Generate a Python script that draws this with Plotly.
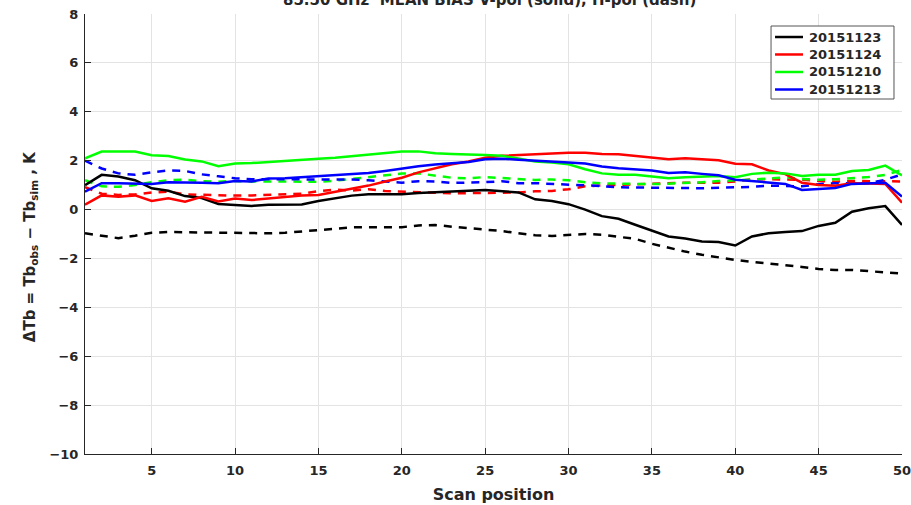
import plotly.graph_objects as go

scan = list(range(1, 51))
labels = ["20151123", "20151124", "20151210", "20151213"]
colors = ["#000000", "#ff0000", "#00ff00", "#0000ff"]

v_20151123 = [1.0, 1.42, 1.35, 1.2, 0.87, 0.77, 0.55, 0.47, 0.23, 0.18,
              0.15, 0.2, 0.2, 0.21, 0.35, 0.47, 0.57, 0.63, 0.64, 0.63,
              0.68, 0.72, 0.75, 0.77, 0.8, 0.76, 0.7, 0.42, 0.35, 0.22,
              0.0, -0.27, -0.38, -0.62, -0.85, -1.1, -1.18, -1.31, -1.33, -1.47,
              -1.1, -0.97, -0.92, -0.88, -0.67, -0.54, -0.09, 0.05, 0.14, -0.63]
h_20151123 = [-0.97, -1.07, -1.17, -1.07, -0.95, -0.92, -0.93, -0.93, -0.95, -0.95,
              -0.97, -0.97, -0.95, -0.9, -0.86, -0.8, -0.73, -0.72, -0.72, -0.72,
              -0.65, -0.63, -0.7, -0.75, -0.81, -0.88, -0.97, -1.05, -1.08, -1.03,
              -1.0, -1.03, -1.1, -1.2, -1.4, -1.57, -1.72, -1.85, -1.97, -2.06,
              -2.14, -2.2, -2.26, -2.35, -2.43, -2.47, -2.47, -2.52, -2.58, -2.62]
v_20151124 = [0.2, 0.58, 0.52, 0.58, 0.35, 0.46, 0.32, 0.52, 0.33, 0.45,
              0.39, 0.46, 0.5, 0.57, 0.6, 0.72, 0.87, 0.98, 1.15, 1.3,
              1.52, 1.7, 1.85, 1.97, 2.12, 2.2, 2.23, 2.26, 2.28, 2.32,
              2.32, 2.27, 2.26, 2.2, 2.15, 2.06, 2.1, 2.05, 2.02, 1.87,
              1.85, 1.6, 1.45, 1.1, 1.0, 0.97, 1.08, 1.07, 1.05, 0.28]
h_20151124 = [0.92, 0.65, 0.6, 0.62, 0.7, 0.73, 0.62, 0.6, 0.57, 0.57,
              0.58, 0.6, 0.6, 0.65, 0.75, 0.82, 0.78, 0.83, 0.76, 0.73,
              0.71, 0.68, 0.67, 0.67, 0.67, 0.7, 0.7, 0.75, 0.76, 0.83,
              0.95, 0.99, 1.0, 1.03, 1.06, 1.09, 1.1, 1.1, 1.1, 1.15,
              1.24, 1.24, 1.24, 1.22, 1.17, 1.14, 1.17, 1.17, 1.14, 1.15]
v_20151210 = [2.1, 2.37, 2.37, 2.37, 2.22, 2.19, 2.05, 1.97, 1.77, 1.88,
              1.9, 1.95, 2.0, 2.06, 2.08, 2.12, 2.18, 2.25, 2.3, 2.37,
              2.38, 2.3, 2.27, 2.26, 2.23, 2.2, 2.1, 1.97, 1.92, 1.85,
              1.65, 1.48, 1.42, 1.42, 1.35, 1.28, 1.32, 1.35, 1.37, 1.32,
              1.46, 1.51, 1.48, 1.37, 1.42, 1.42, 1.58, 1.62, 1.8, 1.4]
h_20151210 = [1.2, 0.95, 0.93, 1.0, 1.12, 1.2, 1.22, 1.16, 1.14, 1.17,
              1.15, 1.14, 1.14, 1.13, 1.14, 1.18, 1.26, 1.33, 1.4, 1.47,
              1.48, 1.4, 1.3, 1.28, 1.33, 1.29, 1.25, 1.21, 1.23, 1.2,
              1.12, 1.07, 1.06, 1.05, 1.04, 1.06, 1.08, 1.12, 1.17, 1.18,
              1.22, 1.27, 1.32, 1.25, 1.22, 1.24, 1.28, 1.33, 1.42, 1.62]
v_20151213 = [0.73, 1.08, 1.08, 1.08, 1.05, 1.12, 1.12, 1.1, 1.08, 1.17,
              1.15, 1.27, 1.28, 1.32, 1.37, 1.41, 1.46, 1.5, 1.58, 1.68,
              1.77, 1.84, 1.88, 1.95, 2.06, 2.08, 2.04, 1.99, 1.95, 1.92,
              1.88, 1.76, 1.69, 1.66, 1.6, 1.5, 1.53, 1.46, 1.4, 1.22,
              1.17, 1.1, 1.05, 0.8, 0.84, 0.88, 1.05, 1.08, 1.1, 0.53]
h_20151213 = [2.0, 1.68, 1.48, 1.42, 1.52, 1.6, 1.58, 1.44, 1.36, 1.28,
              1.24, 1.24, 1.22, 1.21, 1.21, 1.21, 1.23, 1.2, 1.14, 1.1,
              1.16, 1.15, 1.09, 1.1, 1.12, 1.16, 1.08, 1.08, 1.05, 1.05,
              1.02, 0.96, 0.91, 0.9, 0.87, 0.88, 0.88, 0.87, 0.88, 0.91,
              0.93, 0.98, 0.96, 0.95, 1.04, 1.08, 1.08, 1.08, 1.22, 1.44]

v_series = [v_20151123, v_20151124, v_20151210, v_20151213]
h_series = [h_20151123, h_20151124, h_20151210, h_20151213]

x_ticks = [5, 10, 15, 20, 25, 30, 35, 40, 45, 50]
y_ticks = [-10, -8, -6, -4, -2, 0, 2, 4, 6, 8]

FONT = "DejaVu Sans"
TXT = "#262626"

fig = go.Figure()
for lab, col, h in zip(labels, colors, h_series):
    fig.add_trace(go.Scatter(x=scan, y=h, mode="lines", name=lab + " H-pol",
                             showlegend=False,
                             line=dict(color=col, width=2.5, dash="8px,7px")))
for lab, col, v in zip(labels, colors, v_series):
    fig.add_trace(go.Scatter(x=scan, y=v, mode="lines", name=lab,
                             showlegend=False,
                             line=dict(color=col, width=2.5)))

# legend box drawn in paper coordinates
shapes = [dict(type="rect", xref="paper", yref="paper",
               x0=0.8397, x1=0.9902, y0=0.8068, y1=0.9727,
               fillcolor="white", line=dict(color="#555555", width=1),
               layer="above")]
annotations = []
row_y = [0.9477, 0.9080, 0.8682, 0.8284]
for lab, col, ry in zip(labels, colors, row_y):
    shapes.append(dict(type="line", xref="paper", yref="paper",
                       x0=0.8446, x1=0.8788, y0=ry, y1=ry,
                       line=dict(color=col, width=2.5), layer="above"))
    annotations.append(dict(text=lab, xref="paper", yref="paper",
                            x=0.8837, y=ry, xanchor="left", yanchor="middle",
                            showarrow=False,
                            font=dict(family=FONT, size=13, color=TXT,
                                      weight="bold")))

annotations.append(dict(text="85.50 GHz  MEAN BIAS V-pol (solid), H-pol (dash)",
                        xref="paper", yref="paper", x=0.495, y=1,
                        xanchor="center", yanchor="bottom", yshift=3,
                        showarrow=False,
                        font=dict(family=FONT, size=15, color=TXT, weight="bold")))
annotations.append(dict(text="ΔTb = Tb<sub>obs</sub> − Tb<sub>sim</sub> , K",
                        xref="paper", yref="paper", x=0, y=0.47,
                        xanchor="center", yanchor="middle", xshift=-55,
                        textangle=-90, showarrow=False,
                        font=dict(family=FONT, size=15, color=TXT, weight="bold")))

fig.update_layout(
    width=911, height=505,
    margin=dict(l=85, r=9, t=14, b=51, autoexpand=False),
    paper_bgcolor="white", plot_bgcolor="white",
    showlegend=False,
    font=dict(family=FONT, size=13, color=TXT, weight="bold"),
    xaxis=dict(range=[1, 50], tickvals=x_ticks, showgrid=True,
               gridcolor="#e3e3e3", gridwidth=1, zeroline=False,
               showline=True, linecolor="#262626", linewidth=1,
               ticks="inside", ticklen=6, tickcolor="#262626",
               automargin=False, ticklabelstandoff=4,
               ticklabeloverflow="allow",
               tickfont=dict(family=FONT, size=13, color=TXT, weight="bold"),
               title=dict(text="Scan position", standoff=12,
                          font=dict(family=FONT, size=16, color=TXT, weight="bold"))),
    yaxis=dict(range=[-10, 8], tickvals=y_ticks, showgrid=True,
               gridcolor="#e3e3e3", gridwidth=1, zeroline=False,
               showline=True, linecolor="#262626", linewidth=1,
               ticks="inside", ticklen=6, tickcolor="#262626",
               automargin=False, ticklabelstandoff=3,
               ticklabeloverflow="allow",
               tickfont=dict(family=FONT, size=13, color=TXT, weight="bold")),
    shapes=shapes,
    annotations=annotations,
)

# remove the page's default body margin so the figure sits at the window origin
fig.write_html("out.html",
               config={"displayModeBar": False},
               post_script="document.body.style.margin='0';"
                           "document.body.style.overflow='hidden';")
